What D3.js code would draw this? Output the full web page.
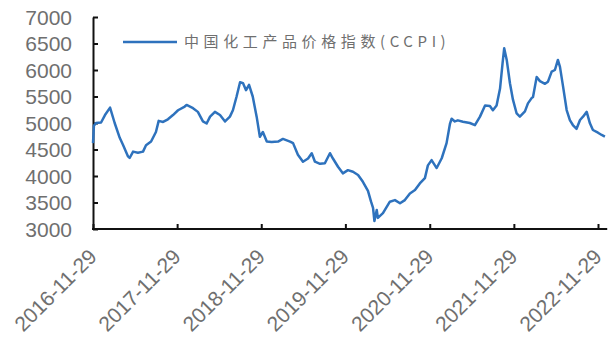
<!DOCTYPE html>
<html>
<head>
<meta charset="utf-8">
<script src="https://cdn.jsdelivr.net/npm/d3@7"></script>
<style>
  html, body { margin: 0; padding: 0; background: #fff; }
  svg { display: block; }
</style>
</head>
<body>
<svg id="chart" width="614" height="344"></svg>
<script>
// 中国化工产品价格指数 (CCPI)
const seriesName = "中国化工产品价格指数(CCPI)";

const dates = [
  "2016-11-29","2016-12-03","2016-12-12","2017-01-03","2017-01-20","2017-02-11","2017-03-03","2017-03-25",
  "2017-04-08","2017-04-30","2017-05-07","2017-05-22","2017-06-12","2017-07-04","2017-07-17","2017-08-08",
  "2017-08-29","2017-09-10","2017-09-29","2017-10-20","2017-11-11","2017-12-03","2018-01-01","2018-01-09",
  "2018-02-06","2018-02-27","2018-03-21","2018-04-06","2018-04-21","2018-05-12","2018-06-03","2018-06-25",
  "2018-07-16","2018-07-29","2018-08-14","2018-08-29","2018-09-11","2018-09-24","2018-10-07","2018-10-23",
  "2018-11-09","2018-11-23","2018-12-06","2018-12-23","2019-01-13","2019-02-10","2019-03-03","2019-04-03",
  "2019-04-16","2019-05-07","2019-05-29","2019-06-20","2019-07-06","2019-07-20","2019-08-11","2019-09-01",
  "2019-09-23","2019-10-06","2019-10-28","2019-11-18","2019-12-10","2020-01-01","2020-01-23","2020-02-13",
  "2020-03-06","2020-03-19","2020-03-28","2020-04-03","2020-04-13","2020-04-18","2020-05-10","2020-06-09",
  "2020-07-01","2020-07-23","2020-08-13","2020-09-04","2020-09-26","2020-10-17","2020-11-08","2020-11-21",
  "2020-12-07","2020-12-29","2021-01-20","2021-02-10","2021-02-25","2021-03-04","2021-03-18","2021-03-31",
  "2021-04-22","2021-05-22","2021-06-13","2021-07-05","2021-07-27","2021-08-17","2021-08-30","2021-09-15",
  "2021-09-30","2021-10-11","2021-10-18","2021-10-29","2021-11-12","2021-11-25","2021-12-11","2021-12-25",
  "2022-01-16","2022-01-29","2022-02-14","2022-02-20","2022-03-08","2022-03-22","2022-04-13","2022-04-26",
  "2022-05-12","2022-05-26","2022-06-08","2022-06-17","2022-06-30","2022-07-16","2022-07-30","2022-08-12",
  "2022-08-28","2022-09-12","2022-09-25","2022-10-11","2022-10-25","2022-11-07","2022-11-29","2022-12-15",
  "2022-12-29"
];

const values = [
  4620,4950,5000,5010,5150,5290,5000,4720,
  4590,4370,4340,4460,4440,4460,4580,4650,
  4830,5040,5020,5070,5150,5240,5310,5340,
  5280,5210,5030,4990,5120,5210,5150,5030,
  5120,5240,5500,5770,5750,5620,5720,5500,
  5120,4740,4830,4650,4640,4650,4700,4650,
  4620,4400,4270,4330,4430,4270,4230,4240,
  4430,4330,4175,4050,4110,4080,4020,3890,
  3720,3520,3400,3150,3360,3210,3300,3515,
  3545,3485,3545,3670,3735,3860,3960,4200,
  4300,4150,4335,4620,4990,5080,5030,5050,
  5025,5000,4960,5120,5330,5320,5240,5330,
  5650,6130,6410,6190,5750,5440,5180,5120,
  5220,5370,5470,5490,5870,5790,5740,5780,
  5970,6000,6190,6060,5700,5245,5056,4962,
  4890,5056,5119,5210,4994,4868,4817,4774,
  4742
];

const xTickLabels = ["2016-11-29","2017-11-29","2018-11-29","2019-11-29","2020-11-29","2021-11-29","2022-11-29"];
const yTicks = [3000,3500,4000,4500,5000,5500,6000,6500,7000];

const parse = d3.timeParse("%Y-%m-%d");
const data = dates.map((d, i) => ({ date: parse(d), value: values[i] }));

const svg = d3.select("#chart");
const axisColor = "#111";
const labelColor = "#6f6f6f";
const lineColor = "#2e72bd";

const x = d3.scaleTime()
  .domain([parse(xTickLabels[0]), parse(xTickLabels[xTickLabels.length - 1])])
  .range([93, 598]);

const y = d3.scaleLinear()
  .domain([3000, 7000])
  .range([229, 17]);

// y axis: ticks point inward, labels placed separately on the left
const yAxis = svg.append("g")
  .attr("transform", "translate(93,0)")
  .call(d3.axisRight(y).tickValues(yTicks).tickSize(5).tickSizeOuter(0).tickFormat(""));
yAxis.select(".domain").attr("stroke", axisColor).attr("stroke-width", 2);
yAxis.selectAll(".tick line").attr("stroke", axisColor).attr("stroke-width", 2);

svg.append("g").selectAll("text")
  .data(yTicks)
  .join("text")
  .attr("x", 72)
  .attr("y", d => y(d))
  .attr("dy", "0.36em")
  .attr("text-anchor", "end")
  .attr("font-family", "'Liberation Sans', Arial, sans-serif")
  .attr("font-size", 21)
  .attr("fill", labelColor)
  .text(d => d);

// x axis: ticks point upward into the plot
const xAxis = svg.append("g")
  .attr("transform", "translate(0,229)")
  .call(d3.axisTop(x).tickValues(xTickLabels.map(parse)).tickSize(5).tickSizeOuter(0).tickFormat(""));
xAxis.select(".domain").remove();
xAxis.selectAll(".tick line").attr("stroke", axisColor).attr("stroke-width", 2);
svg.append("line")
  .attr("x1", 92).attr("x2", x(parse("2023-01-08")))
  .attr("y1", 229).attr("y2", 229)
  .attr("stroke", axisColor).attr("stroke-width", 2);

svg.append("g").selectAll("text")
  .data(xTickLabels)
  .join("text")
  .attr("transform", d => `translate(${x(parse(d)) + 5},258) rotate(-45)`)
  .attr("text-anchor", "end")
  .attr("font-family", "'Liberation Sans', Arial, sans-serif")
  .attr("font-size", 21)
  .attr("fill", labelColor)
  .text(d => d);

// index line
const line = d3.line()
  .x(d => x(d.date))
  .y(d => y(d.value))
  .curve(d3.curveLinear);

svg.append("path")
  .datum(data)
  .attr("d", line)
  .attr("fill", "none")
  .attr("stroke", lineColor)
  .attr("stroke-width", 2.5)
  .attr("stroke-linejoin", "round");

// legend
const legend = svg.append("g");
legend.append("line")
  .attr("x1", 123).attr("x2", 177)
  .attr("y1", 42).attr("y2", 42)
  .attr("stroke", lineColor).attr("stroke-width", 2.5);
legend.append("text")
  .attr("x", 184)
  .attr("y", 42)
  .attr("dy", "0.36em")
  .attr("font-family", "'Noto Sans CJK SC', 'Noto Sans', sans-serif")
  .attr("font-size", 15)
  .attr("letter-spacing", 4.6)
  .attr("fill", labelColor)
  .text(seriesName);
</script>
</body>
</html>
